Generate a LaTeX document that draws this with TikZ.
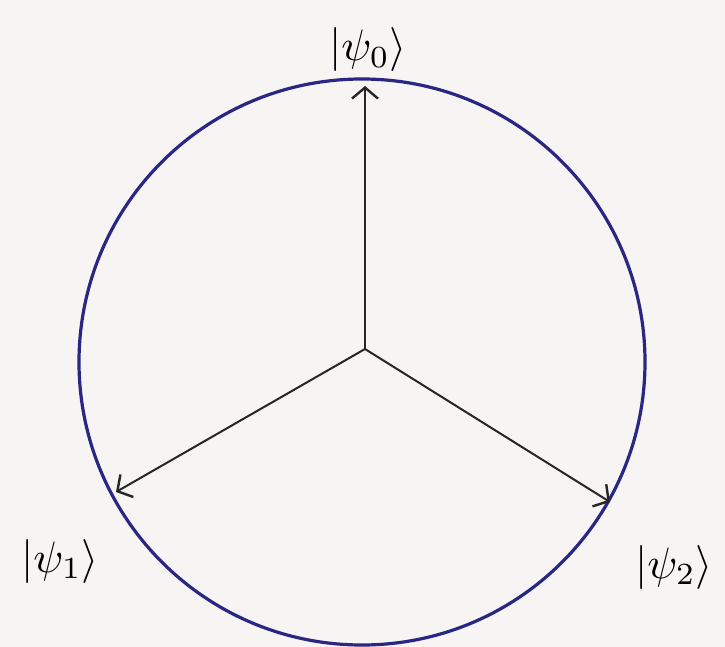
\documentclass[tikz,border=0pt]{standalone}
\usetikzlibrary{arrows.meta}
\definecolor{ink}{RGB}{42,38,132}
\definecolor{paper}{RGB}{246,245,243}
\tikzset{
  vec/.style={line width=2pt, black!85, -{Straight Barb[length=11pt,width=26pt,line width=2.4pt]}},
  ring/.style={line width=3.2pt, ink},
  lbl/.style={scale=4.4, inner sep=0pt}
}
\begin{document}
\begin{tikzpicture}[x=1pt,y=-1pt]
\fill[paper] (0,0) rectangle (725,647);
\useasboundingbox (0,0) rectangle (725,647);
\coordinate (C) at (362,362);
\draw[ring] (C) circle[radius=283];
\coordinate (O) at (365,349);
\coordinate (T0) at (365,86);
\coordinate (T1) at (116,492);
\coordinate (T2) at (610,502);
\draw[vec] (O) -- (T0);
\draw[vec] (O) -- (T1);
\draw[vec] (O) -- (T2);
\node[lbl] (L0) at (368,50) {$|\psi_0\rangle$};
\node[lbl] (L1) at (60,561) {$|\psi_1\rangle$};
\node[lbl] (L2) at (674,567) {$|\psi_2\rangle$};
\end{tikzpicture}
\end{document}
